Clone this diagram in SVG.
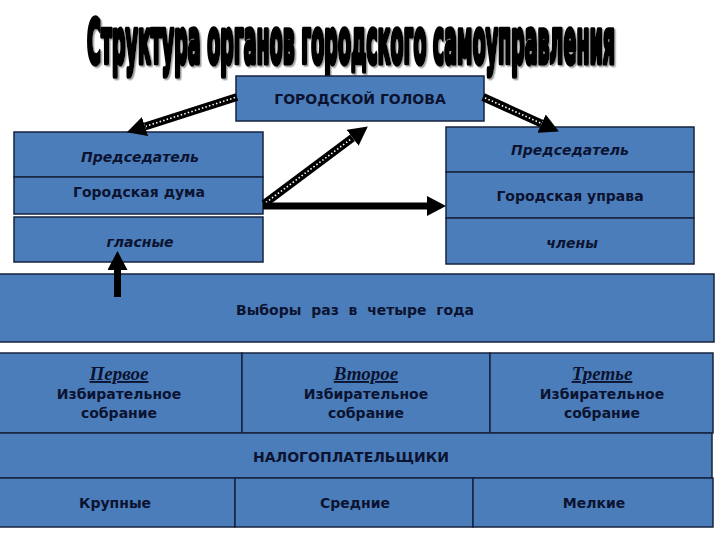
<svg xmlns="http://www.w3.org/2000/svg" width="720" height="540" viewBox="0 0 720 540">
<style>
.box{fill:#4b7dba;stroke:#16233f;stroke-width:1.5}
.t{font-family:"DejaVu Sans",Verdana,sans-serif;font-weight:bold;font-size:14px;fill:#0b1330;text-anchor:middle}
.i{font-style:italic}
.s{font-family:"Liberation Serif","Times New Roman",serif;font-weight:bold;font-style:italic;font-size:19px;fill:#0b1330;text-anchor:middle;text-decoration:underline}
.title{font-family:"DejaVu Sans",sans-serif;font-weight:bold;font-stretch:condensed;font-size:24px;fill:#000;stroke:#000;stroke-width:2.1;stroke-linejoin:round}
.shaft{stroke:#000;stroke-width:8;fill:none}
.dots{stroke:#fff;stroke-width:1.6;stroke-dasharray:1.5 2.2;fill:none}
.solid{stroke:#000;stroke-width:7;fill:none}
</style>
<defs>
<marker id="head" markerUnits="userSpaceOnUse" markerWidth="20" markerHeight="20" refX="0" refY="10" orient="auto">
<path d="M0,0 L19,10 L0,20 z" fill="#000"/>
</marker>
<filter id="sh" x="-5%" y="-20%" width="110%" height="140%">
<feDropShadow dx="1.5" dy="1.5" stdDeviation="0.6" flood-color="#888" flood-opacity="0.8"/>
</filter>
</defs>
<rect width="720" height="540" fill="#fff"/>
<g id="title" filter="url(#sh)">
<text class="title" transform="translate(87,63) scale(1,2.55)" x="0" y="0" textLength="528" lengthAdjust="spacingAndGlyphs">Структура органов городского самоуправления</text>
</g>
<g id="golova">
<rect class="box" x="236" y="76" width="248" height="45"/>
<text class="t" x="360" y="104" font-size="13">ГОРОДСКОЙ ГОЛОВА</text>
</g>
<g id="duma">
<rect class="box" x="14" y="132" width="249" height="45"/>
<text class="t i" x="140" y="162">Председатель</text>
<rect class="box" x="14" y="177" width="249" height="37"/>
<text class="t" x="139" y="197">Городская дума</text>
</g>
<g id="glasnye">
<rect class="box" x="14" y="217" width="249" height="45"/>
<text class="t i" x="140" y="247">гласные</text>
</g>
<g id="uprava">
<rect class="box" x="446" y="127" width="248" height="45"/>
<text class="t i" x="570" y="155">Председатель</text>
<rect class="box" x="446" y="172" width="248" height="46"/>
<text class="t" x="570" y="201">Городская управа</text>
</g>
<g id="chleny">
<rect class="box" x="446" y="218" width="248" height="46"/>
<text class="t i" x="572" y="248">члены</text>
</g>
<g id="vybory">
<rect class="box" x="-1" y="274" width="715" height="68"/>
<text class="t" x="355" y="315" xml:space="preserve">Выборы  раз  в  четыре  года</text>
</g>
<g id="sobranie1">
<rect class="box" x="-1" y="353" width="243" height="80"/>
<text class="s" x="119" y="380">Первое</text>
<text class="t" x="119" y="399">Избирательное</text>
<text class="t" x="119" y="418">собрание</text>
</g>
<g id="sobranie2">
<rect class="box" x="242" y="353" width="248" height="80"/>
<text class="s" x="366" y="380">Второе</text>
<text class="t" x="366" y="399">Избирательное</text>
<text class="t" x="366" y="418">собрание</text>
</g>
<g id="sobranie3">
<rect class="box" x="490" y="353" width="223" height="80"/>
<text class="s" x="602" y="380">Третье</text>
<text class="t" x="602" y="399">Избирательное</text>
<text class="t" x="602" y="418">собрание</text>
</g>
<g id="nalog">
<rect class="box" x="-1" y="433" width="713" height="45"/>
<text class="t" x="351" y="462">НАЛОГОПЛАТЕЛЬЩИКИ</text>
</g>
<g id="krupnye">
<rect class="box" x="-1" y="478" width="236" height="49"/>
<text class="t" x="115" y="508">Крупные</text>
</g>
<g id="srednie">
<rect class="box" x="235" y="478" width="238" height="49"/>
<text class="t" x="355" y="508">Средние</text>
</g>
<g id="melkie">
<rect class="box" x="473" y="478" width="240" height="49"/>
<text class="t" x="594" y="508">Мелкие</text>
</g>
<g id="connectors">
<line class="shaft" x1="237" y1="97" x2="145" y2="126.5" marker-end="url(#head)"/>
<line class="dots" x1="235" y1="97.6" x2="146" y2="126.2"/>
<line class="shaft" x1="483" y1="97" x2="541.6" y2="123.6" marker-end="url(#head)"/>
<line class="dots" x1="485" y1="97.9" x2="540.6" y2="123.1"/>
<line class="shaft" x1="264" y1="204" x2="352.6" y2="137.8" marker-end="url(#head)"/>
<line class="dots" x1="266" y1="202.5" x2="351.8" y2="138.4"/>
<line class="solid" x1="263" y1="206" x2="427" y2="206" marker-end="url(#head)"/>
<line class="solid" x1="117.5" y1="297" x2="117.5" y2="270" marker-end="url(#head)"/>
</g>
</svg>
